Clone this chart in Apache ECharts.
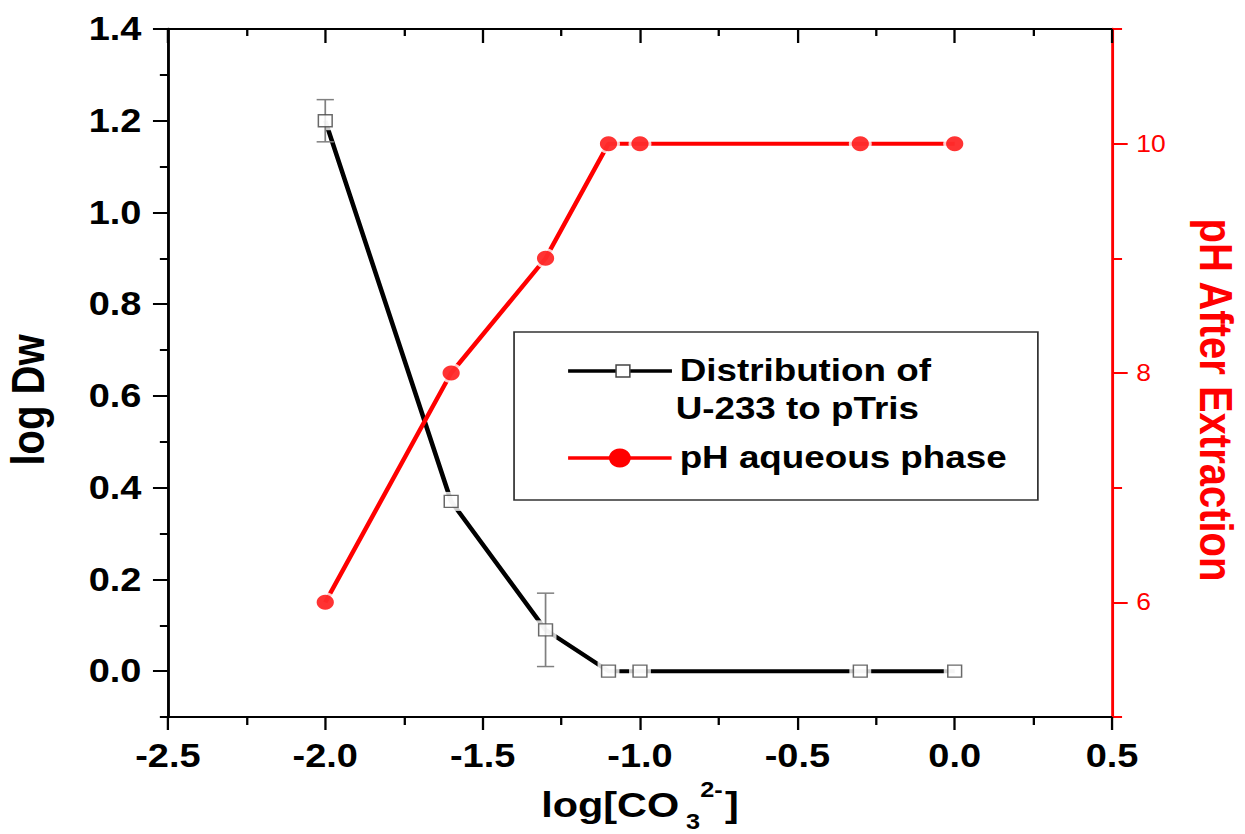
<!DOCTYPE html>
<html>
<head>
<meta charset="utf-8">
<title>log Dw and pH vs log[CO3 2-]</title>
<script src="https://cdn.jsdelivr.net/npm/echarts@6/dist/echarts.min.js"></script>
<style>
  html, body { margin: 0; padding: 0; background: #fff; overflow: hidden; }
  /* the figure is laid out 1083 px wide and widened to the 1245 px window */
  #chart { width: 1083px; height: 834px; transform: scaleX(1.15); transform-origin: 0 0; }
</style>
</head>
<body>
<div id="chart"></div>
<script>
// carbonate concentration (log scale) for each extraction
const logCO3 = [-2.0, -1.6, -1.3, -1.1, -1.0, -0.3, 0.0];
// distribution ratio of U-233 to pTris and its uncertainty
const logDw = [1.20, 0.37, 0.09, 0, 0, 0, 0];
const logDwErr = [0.046, 0, 0.08, 0, 0, 0, 0];
// pH of the aqueous phase after extraction
const phAqueous = [6, 8, 9, 10, 10, 10, 10];

// tick positions
const dwMajorTicks = [0, 0.2, 0.4, 0.6, 0.8, 1.0, 1.2, 1.4];
const dwMinorTicks = [-0.1, 0.1, 0.3, 0.5, 0.7, 0.9, 1.1, 1.3];
const phMajorTicks = [6, 8, 10];
const phMinorTicks = [5, 7, 9, 11];

const FONT = '"Liberation Sans", Arial, Helvetica, sans-serif';
const RED = '#ff0000';

const dwPoints = logCO3.map((x, i) => [x, logDw[i]]);
const phPoints = logCO3.map((x, i) => [x, phAqueous[i]]);
const dwBars = logCO3
  .map((x, i) => [x, logDw[i] - logDwErr[i], logDw[i] + logDwErr[i], logDwErr[i]])
  .filter(d => d[3] > 0);

function renderErrorBar(params, api) {
  const x = api.value(0);
  const top = api.coord([x, api.value(2)]);
  const bot = api.coord([x, api.value(1)]);
  const half = 7.5;
  const style = { stroke: '#808080', lineWidth: 1.5 };
  return {
    type: 'group',
    children: [
      { type: 'line', shape: { x1: top[0], y1: top[1], x2: bot[0], y2: bot[1] }, style },
      { type: 'line', shape: { x1: top[0] - half, y1: top[1], x2: top[0] + half, y2: top[1] }, style },
      { type: 'line', shape: { x1: bot[0] - half, y1: bot[1], x2: bot[0] + half, y2: bot[1] }, style }
    ]
  };
}

const noSplit = { show: false };
const blackLine = (w) => ({ show: true, onZero: false, lineStyle: { color: '#000', width: w } });

const option = {
  animation: false,
  backgroundColor: '#fff',
  textStyle: { fontFamily: FONT },
  grid: { left: 146, right: 116, top: 29, bottom: 117, containLabel: false, outerBoundsMode: 'none' },
  xAxis: [
    {
      type: 'value', position: 'bottom', min: -2.5, max: 0.5, interval: 0.5,
      name: '{a|log[CO}{b|3}{c|2-}{a|]}',
      nameLocation: 'middle', nameGap: 47,
      nameTextStyle: {
        rich: {
          a: { fontFamily: FONT, fontSize: 36, fontWeight: 'bold', color: '#000', lineHeight: 56 },
          b: { fontFamily: FONT, fontSize: 22, fontWeight: 'bold', color: '#000', lineHeight: 22,
               verticalAlign: 'bottom', padding: [0, 0, 0, 6] },
          c: { fontFamily: FONT, fontSize: 22, fontWeight: 'bold', color: '#000', lineHeight: 22,
               verticalAlign: 'top', padding: [2, 2, 0, 0] }
        }
      },
      axisLine: blackLine(2),
      axisTick: { show: true, length: 13, lineStyle: { color: '#000', width: 2 } },
      minorTick: { show: true, splitNumber: 2, length: 8, lineStyle: { color: '#000', width: 2 } },
      axisLabel: { fontFamily: FONT, fontSize: 33, fontWeight: 'bold', color: '#000', margin: 22,
                   formatter: v => v.toFixed(1) },
      splitLine: noSplit, minorSplitLine: noSplit
    },
    {
      type: 'value', position: 'top', min: -2.5, max: 0.5, interval: 0.5,
      axisLine: blackLine(2),
      axisTick: { show: true, inside: true, length: 14, lineStyle: { color: '#000', width: 2 } },
      minorTick: { show: true, splitNumber: 2, length: 7, lineStyle: { color: '#000', width: 2 } },
      axisLabel: { show: false },
      splitLine: noSplit, minorSplitLine: noSplit
    }
  ],
  yAxis: [
    {
      type: 'value', position: 'left', min: -0.1, max: 1.4,
      name: 'log Dw', nameLocation: 'middle', nameGap: 102,
      nameTextStyle: { fontFamily: FONT, fontSize: 40, fontWeight: 'bold', color: '#000', padding: [0, 54, 0, 0] },
      axisLine: blackLine(2.5),
      axisTick: { show: true, length: 13, customValues: dwMajorTicks, lineStyle: { color: '#000', width: 2 } },
      axisLabel: { show: true, customValues: dwMajorTicks, fontFamily: FONT, fontSize: 33, fontWeight: 'bold',
                   color: '#000', margin: 23, formatter: v => v.toFixed(1) },
      splitLine: noSplit
    },
    {
      type: 'value', position: 'left', min: -0.1, max: 1.4,
      axisLine: { show: false, onZero: false },
      axisTick: { show: true, length: 7, customValues: dwMinorTicks, lineStyle: { color: '#000', width: 2 } },
      axisLabel: { show: false },
      splitLine: noSplit
    },
    {
      type: 'value', position: 'right', min: 5, max: 11,
      name: 'pH After Extraction', nameLocation: 'middle', nameRotate: -90, nameGap: 70,
      nameTextStyle: { fontFamily: FONT, fontSize: 40, fontWeight: 'bold', color: RED, padding: [0, 0, 0, 54] },
      axisLine: { show: true, onZero: false, lineStyle: { color: RED, width: 2.5 } },
      axisTick: { show: true, length: 13.6, customValues: phMajorTicks, lineStyle: { color: RED, width: 2 } },
      axisLabel: { show: true, customValues: phMajorTicks, fontFamily: FONT, fontSize: 23, color: RED, margin: 21 },
      splitLine: noSplit
    },
    {
      type: 'value', position: 'right', min: 5, max: 11,
      axisLine: { show: false, onZero: false },
      axisTick: { show: true, length: 8.7, customValues: phMinorTicks, lineStyle: { color: RED, width: 2 } },
      axisLabel: { show: false },
      splitLine: noSplit
    }
  ],
  series: [
    {
      name: 'Distribution of U-233 to pTris', type: 'line', data: dwPoints,
      xAxisIndex: 0, yAxisIndex: 0, symbol: 'none', silent: true,
      lineStyle: { color: '#000', width: 4 }, z: 2
    },
    { // white clearance round each square so the line stops short of it
      type: 'scatter', data: dwPoints, xAxisIndex: 0, yAxisIndex: 0, silent: true,
      symbol: 'rect', symbolSize: 19, itemStyle: { color: '#fff' }, z: 3
    },
    {
      type: 'custom', data: dwBars, xAxisIndex: 0, yAxisIndex: 0, silent: true,
      encode: { x: 0, y: [1, 2] }, renderItem: renderErrorBar, z: 4
    },
    {
      type: 'scatter', data: dwPoints, xAxisIndex: 0, yAxisIndex: 0, silent: true,
      symbol: 'rect', symbolSize: 12,
      itemStyle: { color: '#fff', borderColor: '#444', borderWidth: 1.3 }, z: 5
    },
    {
      name: 'pH aqueous phase', type: 'line', data: phPoints,
      xAxisIndex: 0, yAxisIndex: 2, symbol: 'none', silent: true,
      lineStyle: { color: RED, width: 4 }, z: 2
    },
    {
      type: 'scatter', data: phPoints, xAxisIndex: 0, yAxisIndex: 2, silent: true,
      symbol: 'circle', symbolSize: 20, itemStyle: { color: '#fff' }, z: 3
    },
    {
      type: 'scatter', data: phPoints, xAxisIndex: 0, yAxisIndex: 2, silent: true,
      symbol: 'circle', symbolSize: 15, itemStyle: { color: RED }, z: 5
    }
  ],
  graphic: [
    { type: 'rect', shape: { x: 447, y: 332, width: 455.5, height: 168 },
      style: { fill: '#fff', stroke: '#333', lineWidth: 1.5 }, z: 10 },
    { type: 'line', shape: { x1: 494, y1: 371, x2: 584.3, y2: 371 },
      style: { stroke: '#000', lineWidth: 3.5 }, z: 11 },
    { type: 'rect', shape: { x: 535.7, y: 365, width: 12, height: 12 },
      style: { fill: '#fff', stroke: '#444', lineWidth: 1.3 }, z: 12 },
    { type: 'text', x: 591, y: 370, z: 12,
      style: { text: 'Distribution of', fontFamily: FONT, fontSize: 32, fontWeight: 'bold', fill: '#000', verticalAlign: 'middle' } },
    { type: 'text', x: 587.5, y: 407.5, z: 12,
      style: { text: 'U-233 to pTris', fontFamily: FONT, fontSize: 32, fontWeight: 'bold', fill: '#000', verticalAlign: 'middle' } },
    { type: 'line', shape: { x1: 494, y1: 458, x2: 584, y2: 458 },
      style: { stroke: RED, lineWidth: 3.5 }, z: 11 },
    { type: 'circle', shape: { cx: 539, cy: 458, r: 9.5 },
      style: { fill: RED }, z: 12 },
    { type: 'text', x: 591, y: 456.5, z: 12,
      style: { text: 'pH aqueous phase', fontFamily: FONT, fontSize: 32, fontWeight: 'bold', fill: '#000', verticalAlign: 'middle' } }
  ]
};

const chart = echarts.init(document.getElementById('chart'), null, { renderer: 'svg' });
chart.setOption(option);
</script>
</body>
</html>
